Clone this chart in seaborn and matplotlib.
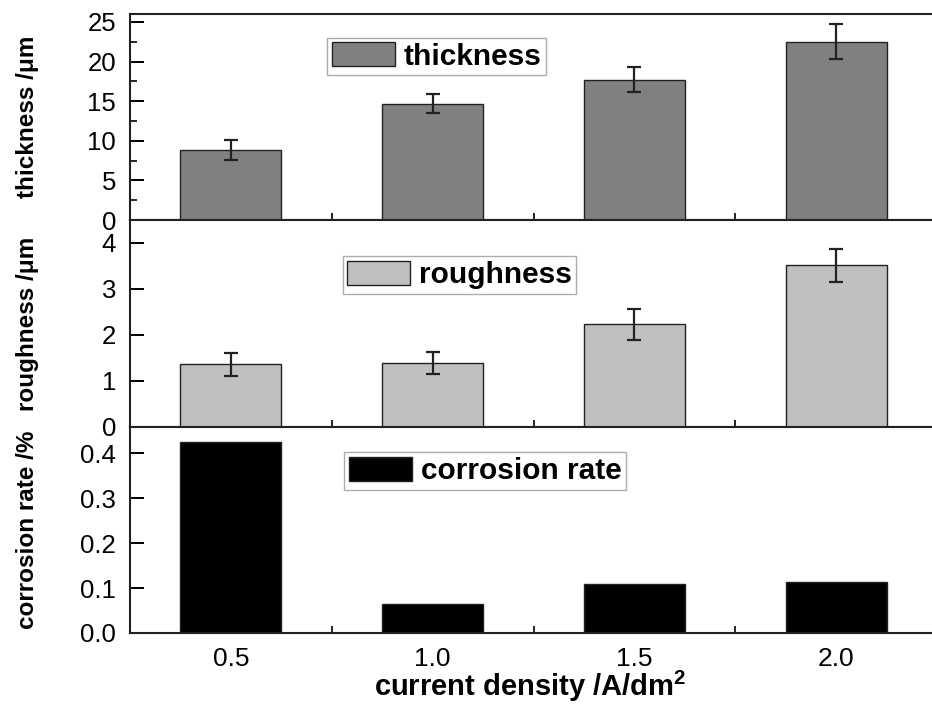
import numpy as np
import matplotlib
matplotlib.use("Agg")
import matplotlib.pyplot as plt
from matplotlib.ticker import MultipleLocator
import seaborn as sns

# data
density = [0.5, 1.0, 1.5, 2.0]
thickness = [8.85, 14.7, 17.7, 22.5]
thickness_err = [1.25, 1.25, 1.6, 2.2]
roughness = [1.36, 1.39, 2.23, 3.52]
roughness_err = [0.245, 0.23, 0.34, 0.36]
corrosion = [0.424, 0.065, 0.108, 0.113]
xtick_labels = ["0.5", "1.0", "1.5", "2.0"]

sns.set_style("ticks")
plt.rcParams["font.family"] = ["Liberation Sans", "DejaVu Sans"]
plt.rcParams["mathtext.default"] = "regular"
plt.rcParams["xtick.direction"] = "in"
plt.rcParams["ytick.direction"] = "in"
plt.rcParams["text.color"] = "black"
plt.rcParams["axes.labelcolor"] = "black"
plt.rcParams["xtick.color"] = "black"
plt.rcParams["ytick.color"] = "black"

fig = plt.figure(figsize=(9.32, 7.08), dpi=100)

left = 130 / 932
width = 807 / 932
# panel boxes in pixels (top, bottom)
boxes = [(14, 220), (220, 427), (427, 633)]
axes = []
for top, bot in boxes:
    ax = fig.add_axes([left, 1 - bot / 708, width, (bot - top) / 708])
    axes.append(ax)

panels = [
    (thickness, thickness_err, "#808080", "thickness", "thickness /\u03bcm", 26, 5, 2.5, (0.38, 0.794)),
    (roughness, roughness_err, "#c0c0c0", "roughness", "roughness /\u03bcm", 4.5, 1, None, (0.408, 0.734)),
    (corrosion, None, "black", "corrosion rate", "corrosion rate /%", 0.458, 0.1, None, (0.44, 0.786)),
]

for ax, (vals, errs, color, name, ylabel, ytop, major, minor, legpos) in zip(axes, panels):
    sns.barplot(x=density, y=vals, native_scale=True, width=0.5, color=color,
                edgecolor="#222222", linewidth=1.0, saturation=1, errorbar=None,
                label=name, ax=ax)
    if errs is not None:
        ax.errorbar(density, vals, yerr=errs, fmt="none", ecolor="#222222",
                    elinewidth=1.6, capsize=5, capthick=1.6)
    ax.set_xlim(0.25, 2.25)
    ax.set_ylim(0, ytop)
    ax.yaxis.set_major_locator(MultipleLocator(major))
    if minor:
        ax.yaxis.set_minor_locator(MultipleLocator(minor))
    ax.xaxis.set_major_locator(MultipleLocator(0.5))
    ax.xaxis.set_minor_locator(MultipleLocator(0.25))
    ax.tick_params(axis="both", which="major", length=10, width=1.4, labelsize=18.5,
                   pad=10, top=False, right=False)
    ax.tick_params(axis="both", which="minor", length=5, width=1.2, top=False, right=False)
    for sp in ax.spines.values():
        sp.set_linewidth(1.5)
        sp.set_color("#222222")
    ax.set_ylabel(ylabel, fontsize=17.5, fontweight="bold")
    ax.yaxis.set_label_coords(-0.113, 0.5)
    ax.set_xlabel("")
    leg = ax.legend(loc="center", bbox_to_anchor=legpos, fontsize=21.5, frameon=True,
                    fancybox=False, handlelength=2.1, handleheight=0.87,
                    handletextpad=0.3, borderpad=0.15, borderaxespad=0)
    leg.get_frame().set_edgecolor("#999999")
    leg.get_frame().set_linewidth(1.0)
    for t in leg.get_texts():
        t.set_fontweight("bold")

for ax in axes[:2]:
    ax.tick_params(axis="x", labelbottom=False)

axes[2].set_xticks(density)
axes[2].set_xticklabels(xtick_labels)
axes[2].tick_params(axis="x", labelsize=19)
axes[2].set_xlabel("current density /A/dm$^2$", fontsize=21, fontweight="bold")
axes[2].xaxis.set_label_coords(0.496, -0.175)
axes[2].xaxis.label.set_va("top")

fig.savefig("out.png", dpi=100)
